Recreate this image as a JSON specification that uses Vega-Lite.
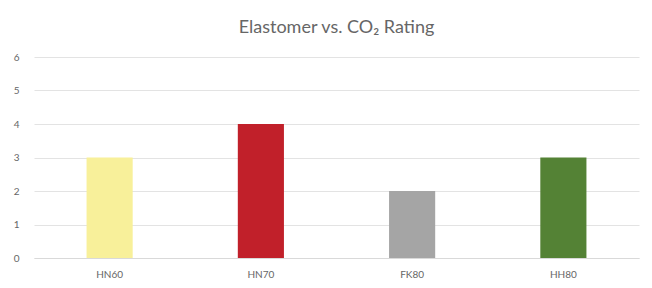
{
  "$schema": "https://vega.github.io/schema/vega-lite/v6.json",
  "width": 605,
  "height": 201,
  "autosize": {"type": "none"},
  "padding": {"left": 34, "top": 57, "right": 13, "bottom": 30},
  "background": "white",
  "title": {
    "text": "Elastomer vs. CO₂ Rating",
    "font": "Lato",
    "fontSize": 18,
    "fontWeight": "normal",
    "color": "#666666",
    "anchor": "middle",
    "offset": 15
  },
  "data": {
    "values": [
      {"material": "HN60", "rating": 3, "color": "#f8f09a"},
      {"material": "HN70", "rating": 4, "color": "#c1202a"},
      {"material": "FK80", "rating": 2, "color": "#a5a5a5"},
      {"material": "HH80", "rating": 3, "color": "#548235"}
    ]
  },
  "mark": {"type": "bar"},
  "encoding": {
    "x": {
      "field": "material",
      "type": "nominal",
      "sort": null,
      "title": null,
      "scale": {"paddingInner": 0.695, "paddingOuter": 0.3475},
      "axis": {
        "labelAngle": 0,
        "labelFont": "Lato",
        "labelFontSize": 10,
        "labelColor": "#666666",
        "ticks": false,
        "labelPadding": 11,
        "domainColor": "#d9d9d9",
        "domainWidth": 1.2,
        "grid": false
      }
    },
    "y": {
      "field": "rating",
      "type": "quantitative",
      "title": null,
      "scale": {"domain": [0, 6]},
      "axis": {
        "values": [0, 1, 2, 3, 4, 5, 6],
        "labelFont": "Lato",
        "labelFontSize": 10,
        "labelColor": "#666666",
        "ticks": false,
        "domain": false,
        "labelPadding": 15,
        "gridColor": "#e3e3e3",
        "gridWidth": 1
      }
    },
    "color": {"field": "color", "type": "nominal", "scale": null, "legend": null}
  },
  "config": {"view": {"stroke": null}}
}
